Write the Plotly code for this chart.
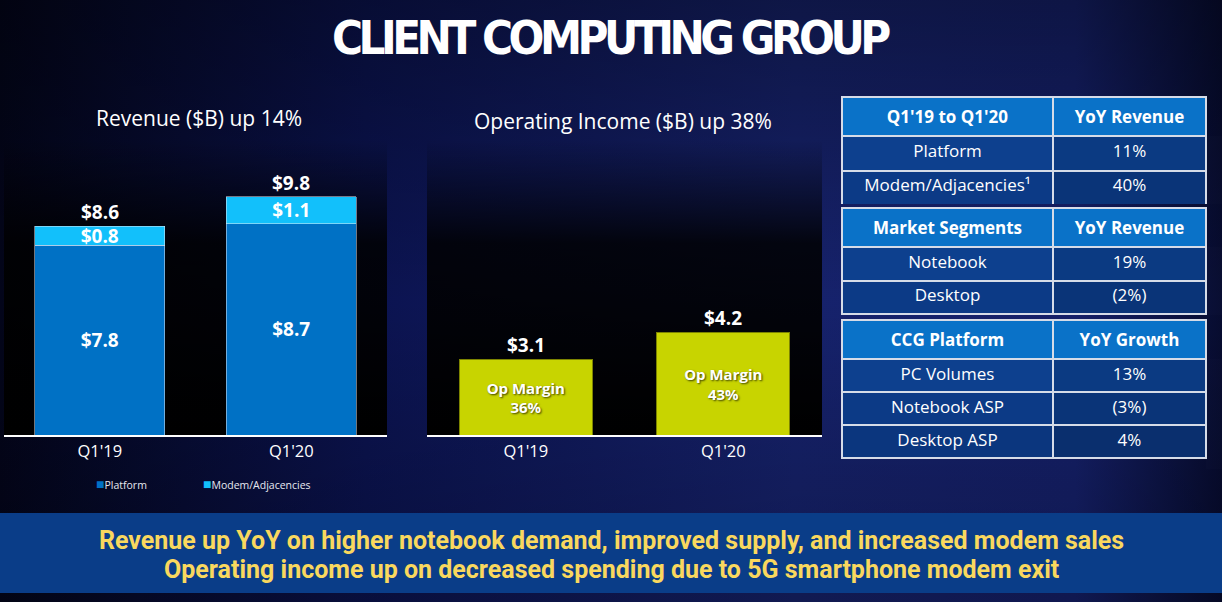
import base64
import plotly.graph_objects as go

# Revenue ($B) by quarter, split into platform and modem/adjacencies
quarters = ["Q1'19", "Q1'20"]
platform_rev = [7.8, 8.7]
modem_rev = [0.8, 1.1]

# Operating income ($B) and operating margin
op_income = [3.1, 4.2]
op_margin = [36, 43]

# Side tables
t1_header = ["Q1'19 to Q1'20", "YoY Revenue"]
t1_rows = ["Platform", "Modem/Adjacencies¹"]
t1_vals = ["11%", "40%"]

t2_header = ["Market Segments", "YoY Revenue"]
t2_rows = ["Notebook", "Desktop"]
t2_vals = ["19%", "(2%)"]

t3_header = ["CCG Platform", "YoY Growth"]
t3_rows = ["PC Volumes", "Notebook ASP", "Desktop ASP"]
t3_vals = ["13%", "(3%)", "4%"]

W, H = 1222, 602
FONT = "Open Sans"
PLATFORM_BLUE = "#0071c5"
MODEM_BLUE = "#12c0fb"
OP_GREEN = "#c8d400"


def px_x(p):
    return p / W


def px_y(p):
    return 1 - p / H


def svg_uri(svg):
    return "data:image/svg+xml;base64," + base64.b64encode(svg.encode()).decode()


# slide background and dark chart panels
bg_svg = (
    "<svg xmlns='http://www.w3.org/2000/svg' width='1222' height='602' preserveAspectRatio='none'>"
    "<defs><linearGradient id='g' x1='0' x2='1' y1='0' y2='0'>"
    "<stop offset='0' stop-color='#03051a'/><stop offset='0.3' stop-color='#0b1350'/>"
    "<stop offset='0.65' stop-color='#16226c'/><stop offset='0.88' stop-color='#15206a'/>"
    "<stop offset='1' stop-color='#070c30'/></linearGradient>"
    "<linearGradient id='v' x1='0' x2='0' y1='0' y2='1'>"
    "<stop offset='0' stop-color='#000000' stop-opacity='0.35'/>"
    "<stop offset='0.5' stop-color='#000000' stop-opacity='0'/>"
    "<stop offset='1' stop-color='#000000' stop-opacity='0.25'/></linearGradient></defs>"
    "<rect width='1222' height='602' fill='url(#g)'/><rect width='1222' height='602' fill='url(#v)'/></svg>"
)
panel_svg = (
    "<svg xmlns='http://www.w3.org/2000/svg' width='100' height='100' preserveAspectRatio='none'>"
    "<defs><linearGradient id='p' x1='0' x2='0' y1='0' y2='1'>"
    "<stop offset='0' stop-color='#000000' stop-opacity='0'/>"
    "<stop offset='0.35' stop-color='#000000' stop-opacity='0.85'/>"
    "<stop offset='1' stop-color='#000000' stop-opacity='1'/></linearGradient></defs>"
    "<rect width='100' height='100' fill='url(#p)'/></svg>"
)

fig = go.Figure()

bar_font = dict(family=FONT, size=19, color="white", weight="bold")

fig.add_trace(go.Bar(
    x=quarters, y=platform_rev, name="Platform", marker_color=PLATFORM_BLUE,
    text=[f"${v}" for v in platform_rev], textposition="inside",
    insidetextanchor="middle", textfont=bar_font, constraintext="none",
    width=0.68, xaxis="x", yaxis="y", hoverinfo="skip",
))
fig.add_trace(go.Bar(
    x=quarters, y=modem_rev, name="Modem/Adjacencies", marker_color=MODEM_BLUE,
    text=[f"${v}" for v in modem_rev], textposition="inside",
    insidetextanchor="middle", textfont=bar_font, constraintext="none",
    width=0.68, xaxis="x", yaxis="y", hoverinfo="skip",
))
fig.add_trace(go.Bar(
    x=quarters, y=op_income, name="Operating Income", marker_color=OP_GREEN,
    marker_line=dict(color="#7d8400", width=1),
    text=[f"Op Margin<br>{m}%" for m in op_margin], textposition="inside",
    insidetextanchor="middle", constraintext="none",
    textfont=dict(family=FONT, size=15, color="white", weight="bold",
                  shadow="1px 1px 2px #3a3f00"),
    width=0.675, xaxis="x2", yaxis="y2", hoverinfo="skip",
))

# totals above bars
totals = [p + m for p, m in zip(platform_rev, modem_rev)]
for q, t in zip(quarters, totals):
    fig.add_annotation(x=q, y=t, xref="x", yref="y", text=f"<b>${t:.1f}</b>",
                       showarrow=False, xanchor="center", yanchor="bottom", yshift=-1,
                       font=dict(family=FONT, size=19, color="white"))
for q, v in zip(quarters, op_income):
    fig.add_annotation(x=q, y=v, xref="x2", yref="y2", text=f"<b>${v}</b>",
                       showarrow=False, xanchor="center", yanchor="bottom", yshift=0,
                       font=dict(family=FONT, size=19, color="white"))

y_top = (435 - 140) / 24.3
axis_common = dict(
    showline=True, linecolor="white", linewidth=1.5, showgrid=False,
    zeroline=False, ticks="", tickfont=dict(family=FONT, size=16.5, color="white"),
    fixedrange=True,
)
yaxis_common = dict(range=[0, y_top], visible=False, domain=[px_y(435), px_y(140)])

fig.update_layout(
    width=W, height=H, margin=dict(l=0, r=0, t=0, b=0),
    paper_bgcolor="#0b1350", plot_bgcolor="rgba(0,0,0,0)",
    barmode="stack", showlegend=False,
    xaxis=dict(domain=[px_x(4), px_x(387)], anchor="y", **axis_common),
    yaxis=dict(anchor="x", **yaxis_common),
    xaxis2=dict(domain=[px_x(427), px_x(822)], anchor="y2", **axis_common),
    yaxis2=dict(anchor="x2", **yaxis_common),
    images=[
        dict(source=svg_uri(bg_svg), xref="paper", yref="paper", x=0, y=1,
             sizex=1, sizey=1, sizing="stretch", layer="below"),
        dict(source=svg_uri(panel_svg), xref="x domain", yref="y domain", x=0, y=1,
             sizex=1, sizey=1, sizing="stretch", layer="below"),
        dict(source=svg_uri(panel_svg), xref="x2 domain", yref="y2 domain", x=0, y=1,
             sizex=1, sizey=1, sizing="stretch", layer="below"),
    ],
)


def note(x, y, text, font, **kw):
    fig.add_annotation(x=px_x(x), y=px_y(y), xref="paper", yref="paper", showarrow=False,
                       text=text, font=font, **{"xanchor": "center", "yanchor": "middle", **kw})


# slide title and chart titles
note(611, 38, "<b><span style='letter-spacing:-4.5px'>CLIENT COMPUTING GROUP</span></b>",
     dict(family="DejaVu Sans Condensed", size=47, color="white"))
note(199, 118, "Revenue ($B) up 14%", dict(family=FONT, size=21, color="white"))
note(623, 121, "Operating Income ($B) up 38%", dict(family=FONT, size=21, color="white"))

# legend for the revenue chart
for lx, tr in zip([94, 201], fig.data[:2]):
    note(lx, 483,
         f"<span style='color:{tr.marker.color};font-size:14px'>■</span>{tr.name}",
         dict(family=FONT, size=10.5, color="#e6e8f0"), xanchor="left")

# tables
HEADER_FILL = "#0a72c8"
LINE = dict(color="#d6dce8", width=2)
LEFT_FILLS = ["#0d408e", "#0c3a86", "#0b367e"]
RIGHT_FILLS = ["#0b3a82", "#0a3478", "#0a2f6e"]


def add_table(header, rows, vals, top, bottom, head_h, cell_h):
    n = len(rows)
    fig.add_trace(go.Table(
        domain=dict(x=[px_x(842), px_x(1207)], y=[px_y(bottom), px_y(top)]),
        columnwidth=[211, 153],
        header=dict(values=[f"<b>{h}</b>" for h in header], fill_color=HEADER_FILL,
                    line=LINE, align="center", height=head_h,
                    font=dict(family=FONT, size=17, color="white")),
        cells=dict(values=[rows, vals], fill_color=[LEFT_FILLS[:n], RIGHT_FILLS[:n]],
                   line=LINE, align="center", height=cell_h,
                   font=dict(family=FONT, size=17, color="white")),
    ))


add_table(t1_header, t1_rows, t1_vals, 97, 204, 30, 34.5)
add_table(t2_header, t2_rows, t2_vals, 208, 316, 33, 33.5)
add_table(t3_header, t3_rows, t3_vals, 320, 470, 33, 33)

# bottom banner
fig.add_shape(type="rect", xref="paper", yref="paper", x0=0, x1=1,
              y0=px_y(593), y1=px_y(513), fillcolor="#0a3d88", line_width=0, layer="below")
banner_lines = [
    "Revenue up YoY on higher notebook demand, improved supply, and increased modem sales",
    "Operating income up on decreased spending due to 5G smartphone modem exit",
]
for txt, cy in zip(banner_lines, [540, 569]):
    note(611, cy, f"<b>{txt}</b>", dict(family="Roboto", size=25, color="#f9d85e"))

fig.write_html("out.html", config={"displayModeBar": False},
               post_script="document.body.style.margin='0';")
